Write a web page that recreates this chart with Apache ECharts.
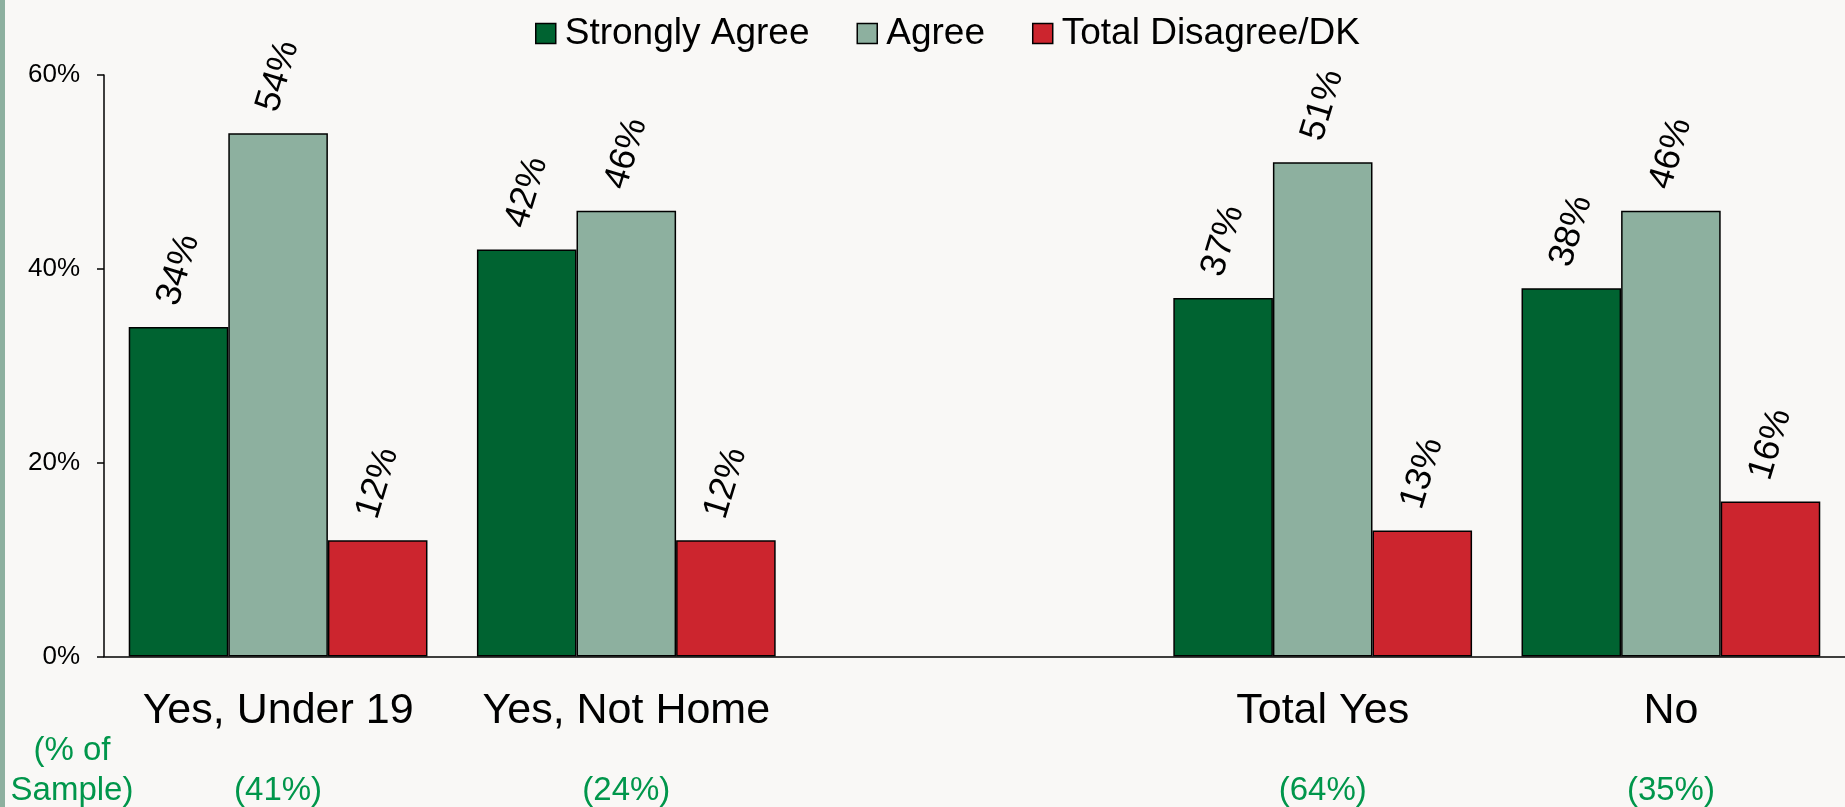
<!DOCTYPE html>
<html lang="en">
<head>
    <meta charset="UTF-8">
    <title>Agreement by group</title>
    <script src="https://cdn.jsdelivr.net/npm/echarts/dist/echarts.min.js"></script>
    <style>
        body {
            margin: 0;
            padding: 0;
            background-color: #f9f8f6;
        }
        #main {
            width: 1845px;
            height: 807px;
        }
    </style>
</head>
<body>
    <div id="main"></div>

    <script type="text/javascript">
        // categories (the empty one is the gap between the two groups)
        var categories = ['Yes, Under 19', 'Yes, Not Home', '', 'Total Yes', 'No'];
        var sampleShare = ['(41%)', '(24%)', '', '(64%)', '(35%)'];

        var stronglyAgree = [34, 42, null, 37, 38];
        var agree = [54, 46, null, 51, 46];
        var disagreeDK = [12, 12, null, 13, 16];

        var seriesNames = ['Strongly Agree', 'Agree', 'Total Disagree/DK'];
        var seriesColors = ['#006331', '#8db09f', '#cc252e'];

        var yTicks = { min: 0, max: 60, interval: 20 };

        var fontName = "'Liberation Sans', Arial, sans-serif";

        var chartDom = document.getElementById('main');
        var myChart = echarts.init(chartDom);

        function makeSeries(name, data, color) {
            return {
                name: name,
                type: 'bar',
                data: data,
                barGap: '0%',
                barCategoryGap: '14.2%',
                itemStyle: {
                    color: color,
                    borderColor: '#000',
                    borderWidth: 1.5
                },
                label: {
                    show: true,
                    position: 'top',
                    distance: 57,
                    rotate: 73,
                    align: 'center',
                    verticalAlign: 'middle',
                    fontFamily: fontName,
                    fontSize: 36,
                    color: '#000',
                    formatter: '{c}%'
                }
            };
        }

        var option = {
            backgroundColor: '#f9f8f6',
            animation: false,
            textStyle: { fontFamily: fontName },
            legend: {
                data: seriesNames,
                icon: 'rect',
                left: 530,
                top: 10,
                itemGap: 47,
                itemWidth: 20,
                itemHeight: 20,
                itemStyle: { borderColor: '#000', borderWidth: 1.5 },
                textStyle: {
                    fontFamily: fontName,
                    fontSize: 37,
                    color: '#000',
                    lineHeight: 37,
                    padding: [0, 0, 0, 4]
                }
            },
            grid: {
                left: 104,
                right: 0,
                top: 75,
                bottom: 150
            },
            xAxis: {
                type: 'category',
                data: categories,
                axisLine: { lineStyle: { color: '#000', width: 1.5 } },
                axisTick: { show: false },
                axisLabel: {
                    interval: 0,
                    margin: 25,
                    formatter: function (value, idx) {
                        return '{a|' + value + '}\n{b|' + sampleShare[idx] + '}';
                    },
                    rich: {
                        a: { fontFamily: fontName, fontSize: 43, color: '#000', lineHeight: 60 },
                        b: { fontFamily: fontName, fontSize: 33, color: '#00964b', lineHeight: 98 }
                    }
                }
            },
            yAxis: {
                type: 'value',
                min: yTicks.min,
                max: yTicks.max,
                interval: yTicks.interval,
                splitLine: { show: false },
                axisLine: { show: true, lineStyle: { color: '#000', width: 1.5 } },
                axisTick: { show: true, length: 7, lineStyle: { color: '#000', width: 1.5 } },
                axisLabel: {
                    margin: 24,
                    fontFamily: fontName,
                    fontSize: 26,
                    color: '#000',
                    formatter: '{value}%'
                }
            },
            graphic: [
                {
                    type: 'rect',
                    left: 0,
                    top: 0,
                    shape: { width: 5, height: 807 },
                    style: { fill: '#8db09f' }
                },
                {
                    type: 'text',
                    x: 72,
                    y: 731,
                    style: {
                        text: '(% of\nSample)',
                        fontFamily: fontName,
                        fontSize: 33,
                        lineHeight: 40,
                        fill: '#00964b',
                        align: 'center',
                        verticalAlign: 'top'
                    }
                }
            ],
            series: [
                makeSeries(seriesNames[0], stronglyAgree, seriesColors[0]),
                makeSeries(seriesNames[1], agree, seriesColors[1]),
                makeSeries(seriesNames[2], disagreeDK, seriesColors[2])
            ]
        };

        myChart.setOption(option);
    </script>
</body>
</html>
